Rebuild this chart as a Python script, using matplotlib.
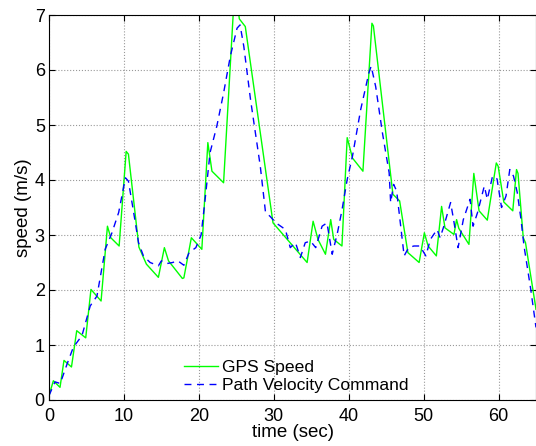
import matplotlib
matplotlib.use('Agg')
import matplotlib.pyplot as plt

plt.rcParams['font.family'] = ['Liberation Sans', 'DejaVu Sans']

# GPS Speed (m/s) vs time (sec)
gps_t = [0, 0.58, 1.47, 2.0, 3.0, 3.7, 4.9, 5.6, 6.95, 7.8, 8.25, 9.36, 10.3, 10.6,
         12.0, 13.0, 14.6, 15.4, 15.95, 17.8, 18.0, 19.0, 20.4, 21.2, 21.75, 23.3,
         24.6, 25.3, 25.4, 26.2, 29.9, 31.8, 34.45, 35.25, 35.9, 36.9, 37.6, 38.0,
         39.1, 39.8, 40.5, 41.9, 43.1, 43.3, 45.9, 46.8, 47.9, 49.4, 50.1, 50.6,
         51.7, 52.4, 52.85, 54.05, 54.4, 54.7, 56.05, 56.7, 57.4, 58.5, 59.7, 59.95,
         60.7, 61.9, 62.4, 62.6, 63.3, 63.6, 65.0]
gps_v = [0.08, 0.35, 0.23, 0.72, 0.6, 1.26, 1.13, 2.01, 1.80, 3.16, 2.95, 2.8, 4.52, 4.47,
         2.78, 2.47, 2.23, 2.77, 2.53, 2.21, 2.22, 2.95, 2.74, 4.68, 4.16, 3.95,
         7.05, 7.05, 6.93, 6.79, 3.22, 2.92, 2.50, 3.25, 2.92, 2.65, 3.28, 2.92,
         2.80, 4.77, 4.4, 4.16, 6.85, 6.8, 3.74, 3.62, 2.68, 2.50, 3.04, 2.8,
         2.62, 3.52, 3.13, 3.01, 3.28, 3.12, 2.83, 4.12, 3.44, 3.27, 4.31, 4.25,
         3.6, 3.44, 4.19, 4.12, 2.95, 2.86, 1.65]

# Path Velocity Command (m/s)
cmd_t = [0, 0.8, 1.5, 2.4, 3.25, 4.4, 5.5, 6.4, 7.5, 8.4, 9.3, 10.2, 10.6, 11.3, 11.95,
         12.6, 13.5, 14.6, 15.0, 15.7, 16.5, 17.2, 18.0, 18.7, 19.6, 20.3, 20.8,
         21.5, 22.4, 23.3, 24.2, 25.1, 25.5, 26.0, 26.9, 28.2, 28.9, 29.5, 30.3,
         31.55, 32.2, 32.9, 33.55, 34.2, 34.9, 35.6, 36.45, 37.1, 37.8, 38.5, 39.1,
         39.8, 40.5, 40.9, 41.6, 42.7, 43.0, 43.6, 44.5, 45.4, 45.6, 46.0, 46.4,
         47.4, 48.0, 48.7, 49.5, 50.3, 50.9, 51.8, 52.2, 52.7, 53.6, 54.0, 54.6,
         55.3, 56.2, 56.6, 57.2, 58.1, 58.5, 59.2, 59.8, 60.4, 61.0, 61.5, 62.0,
         62.5, 63.0, 63.4, 64.3, 65.0]
cmd_v = [0.08, 0.33, 0.3, 0.65, 0.96, 1.17, 1.71, 1.89, 2.74, 3.04, 3.41, 4.04, 3.98, 3.41, 2.86,
         2.62, 2.5, 2.44, 2.53, 2.48, 2.5, 2.53, 2.45, 2.68, 2.77, 3.0, 3.6,
         4.5, 4.98, 5.58, 6.25, 6.76, 6.82, 6.43, 5.46, 4.25, 3.41, 3.34, 3.22,
         3.10, 2.77, 2.86, 2.59, 2.86, 2.89, 2.77, 3.16, 3.22, 2.65, 3.04, 3.45,
         4.01, 4.43, 4.74, 5.28, 5.95, 6.07, 5.7, 4.86, 4.13, 3.59, 3.92, 3.8,
         2.62, 2.77, 2.80, 2.8, 2.62, 2.92, 3.1, 2.95, 3.16, 3.59, 3.28, 2.77,
         3.28, 3.65, 3.16, 3.41, 3.89, 3.65, 4.07, 4.02, 3.5, 3.71, 4.19, 4.07,
         3.77, 3.28, 2.8, 2.01, 1.32]

fig = plt.figure(figsize=(5.36, 4.46), dpi=100)
ax = fig.add_axes([49/536, 46/446, 487/536, 385/446])

ax.plot(gps_t, gps_v, color=(0, 1, 0), lw=1.0, label='GPS Speed')
ax.plot(cmd_t, cmd_v, color=(0, 0, 1), lw=1.0, ls=(0, (5, 4)), label='Path Velocity Command')

ax.set_xlim(0, 65)
ax.set_ylim(0, 7)
ax.set_xticks(range(0, 70, 10))
ax.set_yticks(range(0, 8))
ax.grid(True, ls=':', color='#999999', lw=0.8)
ax.tick_params(direction='in', top=True, right=True, labelsize=13, length=4)
ax.tick_params(axis='y', pad=3)
ax.tick_params(axis='x', pad=6)
for s in ax.spines.values():
    s.set_linewidth(0.8)

ax.set_xlabel('time (sec)', fontsize=13.5, labelpad=-1)
ax.set_ylabel('speed (m/s)', fontsize=13.5, labelpad=2)

ax.legend(loc='lower center', bbox_to_anchor=(0.508, 0.0), frameon=False, fontsize=12.6,
          handlelength=1.9, handletextpad=0.25, labelspacing=0.15, borderaxespad=0.0)

fig.savefig('out.png', dpi=100)
